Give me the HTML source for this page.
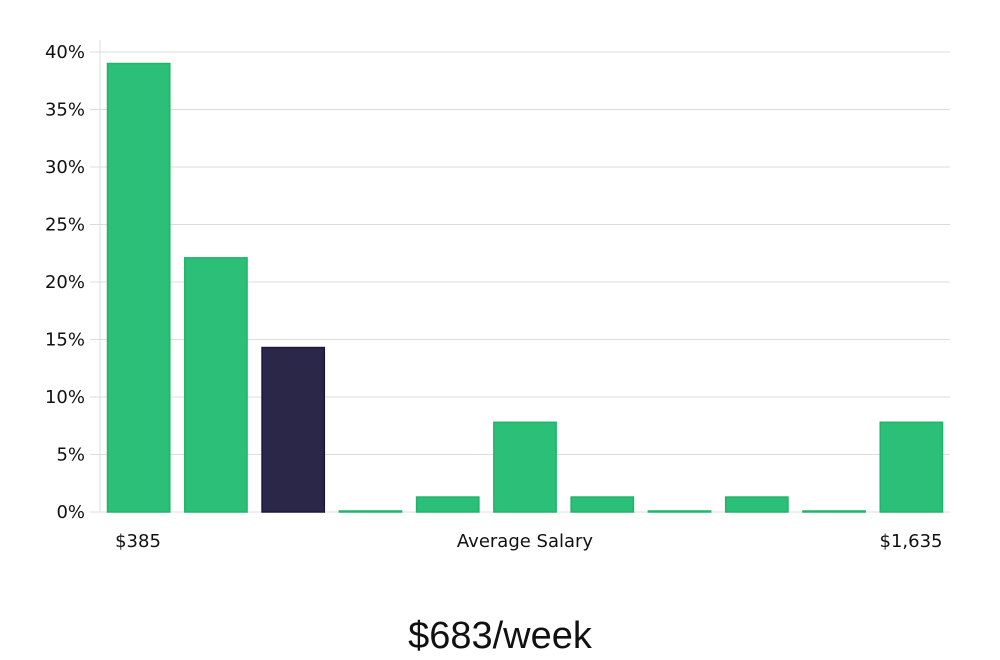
<!DOCTYPE html>
<html><head><meta charset="utf-8"><style>
body{margin:0;background:#fff;width:1000px;height:660px;overflow:hidden}
svg{display:block;font-family:"DejaVu Sans","Liberation Sans",sans-serif}
</style></head><body>
<svg id="chart" width="1000" height="660">
<g id="grid"></g>
<g id="yticks"></g>
<g id="bars"></g>
<text x="138" y="547" text-anchor="middle" font-size="18" fill="#111">$385</text>
<text x="525" y="547" text-anchor="middle" font-size="18" fill="#111">Average Salary</text>
<text x="911" y="547" text-anchor="middle" font-size="18" fill="#111">$1,635</text>
<text x="500" y="648" text-anchor="middle" font-size="38" fill="#111" font-family="Liberation Sans Narrow, Liberation Sans, sans-serif">$683/week</text>
</svg>
<script>
const values = [39, 22.1, 14.3, 0, 1.3, 7.8, 1.3, 0, 1.3, 0, 7.8];
const highlight = [false, false, true, false, false, false, false, false, false, false, false];
const yTicks = [0, 5, 10, 15, 20, 25, 30, 35, 40];
const yTickLabels = ["0%", "5%", "10%", "15%", "20%", "25%", "30%", "35%", "40%"];
const NS = "http://www.w3.org/2000/svg";
const x0 = 100, x1 = 950, yBase = 512, yTop = 52;
const y = v => yBase - (v / 40) * (yBase - yTop);
const band = (x1 - x0) / values.length;
const grid = document.getElementById('grid'), yt = document.getElementById('yticks'), bars = document.getElementById('bars');
function mk(tag, attrs, parent){const e=document.createElementNS(NS,tag);for(const k in attrs)e.setAttribute(k,attrs[k]);parent.appendChild(e);return e;}
const axis = mk('line',{x1:x0,x2:x0,y1:40,y2:yBase,stroke:'#ddd','stroke-width':1},yt);


yTicks.forEach((t,i)=>{
  const g = mk('line',{x1:90,x2:x1,y1:y(t),y2:y(t),stroke:'#dcdcdc','stroke-width':1},grid);
  
  
  const tx = mk('text',{x:85,y:y(t)+6,'text-anchor':'end','font-size':18,fill:'#111'},yt);
  tx.textContent = yTickLabels[i];
  
  
});
values.forEach((v,i)=>{
  const bx = x0 + i*band + 7.5, bw = band - 15;
  const top = Math.min(y(v), yBase - 1);
  const r = mk('rect',{x:bx,y:top,width:bw,height:yBase-top,
    fill: highlight[i] ? '#2b2748' : '#2bbf77',
    stroke: highlight[i] ? '#1a1640' : '#20b36a','stroke-width':1.5},bars);
  
  
});
</script>
</body></html>
